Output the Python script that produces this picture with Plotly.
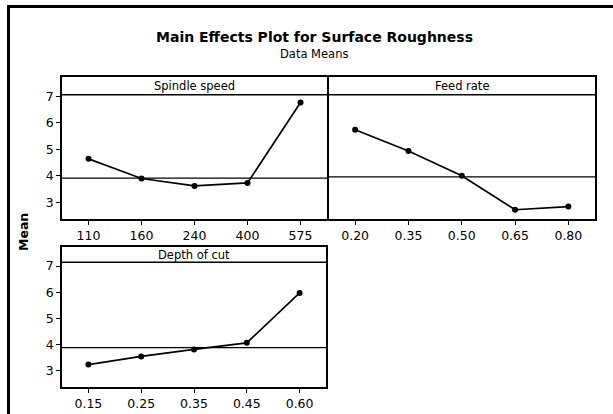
import plotly.graph_objects as go

# ---- data ----
spindle_levels = ["110", "160", "240", "400", "575"]
spindle_means = [4.64, 3.90, 3.62, 3.73, 6.77]

feed_levels = ["0.20", "0.35", "0.50", "0.65", "0.80"]
feed_means = [5.74, 4.94, 4.00, 2.72, 2.84]

depth_levels = ["0.15", "0.25", "0.35", "0.45", "0.60"]
depth_means = [3.23, 3.54, 3.81, 4.06, 5.97]

panel_titles = ["Spindle speed", "Feed rate", "Depth of cut"]
grand_means = [3.91, 3.96, 3.88]
y_ticks = [3, 4, 5, 6, 7]

W, H = 613, 414
FONT = "DejaVu Sans"

def px(x):
    return x / W

def py(y):
    return 1 - y / H

panels = [
    dict(levels=spindle_levels, means=spindle_means, xd=[px(62), px(327)], yd=[py(219), py(77)], hdr=7.06, yticks=True),
    dict(levels=feed_levels, means=feed_means, xd=[px(328.5), px(595)], yd=[py(219), py(77)], hdr=7.06, yticks=False),
    dict(levels=depth_levels, means=depth_means, xd=[px(62), px(326)], yd=[py(387), py(247)], hdr=7.15, yticks=True),
]

fig = go.Figure()
shapes = []
annotations = []
Y_RANGE = [2.37, 7.73]

for i, p in enumerate(panels):
    n = i + 1
    xa = "x" if n == 1 else f"x{n}"
    ya = "y" if n == 1 else f"y{n}"
    xs = list(range(len(p["levels"])))
    fig.add_trace(go.Scatter(
        x=xs, y=p["means"], xaxis=xa, yaxis=ya, mode="lines+markers",
        line=dict(color="black", width=1.7),
        marker=dict(color="black", size=6),
        showlegend=False, hoverinfo="skip",
    ))
    axis_common = dict(showline=True, mirror=True, linecolor="black", linewidth=1.5,
                       ticklen=4, tickcolor="black", tickwidth=1.2,
                       showgrid=False, zeroline=False,
                       tickfont=dict(family=FONT, size=12.5, color="black"))
    fig.update_layout(**{
        ("xaxis" if n == 1 else f"xaxis{n}"): dict(
            domain=p["xd"], anchor=ya, range=[-0.5, len(xs) - 0.5], ticks="outside",
            tickvals=xs, ticktext=p["levels"], **axis_common),
        ("yaxis" if n == 1 else f"yaxis{n}"): dict(
            domain=p["yd"], anchor=xa, range=Y_RANGE,
            ticks="outside" if p["yticks"] else "", showticklabels=p["yticks"],
            tickvals=y_ticks, ticktext=[str(t) for t in y_ticks], **axis_common),
    })
    # header strip line
    shapes.append(dict(type="line", xref=f"{xa} domain", yref=ya, x0=0, x1=1,
                       y0=p["hdr"], y1=p["hdr"], line=dict(color="black", width=1.5)))
    # grand mean reference line
    shapes.append(dict(type="line", xref=f"{xa} domain", yref=ya, x0=0, x1=1,
                       y0=grand_means[i], y1=grand_means[i], line=dict(color="black", width=1.2)))
    annotations.append(dict(text=panel_titles[i], xref=f"{xa} domain", yref=ya,
                            x=0.5, y=(p["hdr"] + Y_RANGE[1]) / 2, showarrow=False,
                            font=dict(family=FONT, size=11.5, color="black"),
                            xanchor="center", yanchor="middle"))

# outer (cropped) border: top and left
shapes.append(dict(type="line", xref="paper", yref="paper", x0=px(7), x1=1, y0=py(6.5), y1=py(6.5),
                   line=dict(color="black", width=3)))
shapes.append(dict(type="line", xref="paper", yref="paper", x0=px(8.5), x1=px(8.5), y0=0, y1=py(5),
                   line=dict(color="black", width=3)))

annotations.append(dict(text="<b>Main Effects Plot for Surface Roughness</b>", xref="paper", yref="paper",
                        x=px(314), y=py(37), showarrow=False, xanchor="center", yanchor="middle",
                        font=dict(family=FONT, size=14, color="black")))
annotations.append(dict(text="Data Means", xref="paper", yref="paper",
                        x=px(314), y=py(54), showarrow=False, xanchor="center", yanchor="middle",
                        font=dict(family=FONT, size=11.5, color="black")))
annotations.append(dict(text="<b>Mean</b>", xref="paper", yref="paper", textangle=-90,
                        x=px(23), y=py(232), showarrow=False, xanchor="center", yanchor="middle",
                        font=dict(family=FONT, size=12.5, color="black")))

fig.update_layout(width=W, height=H, margin=dict(l=0, r=0, t=0, b=0),
                  paper_bgcolor="white", plot_bgcolor="white",
                  shapes=shapes, annotations=annotations)

fig.write_html("out.html", config={"displayModeBar": False},
               post_script="document.body.style.margin='0';document.body.style.overflow='hidden';")
